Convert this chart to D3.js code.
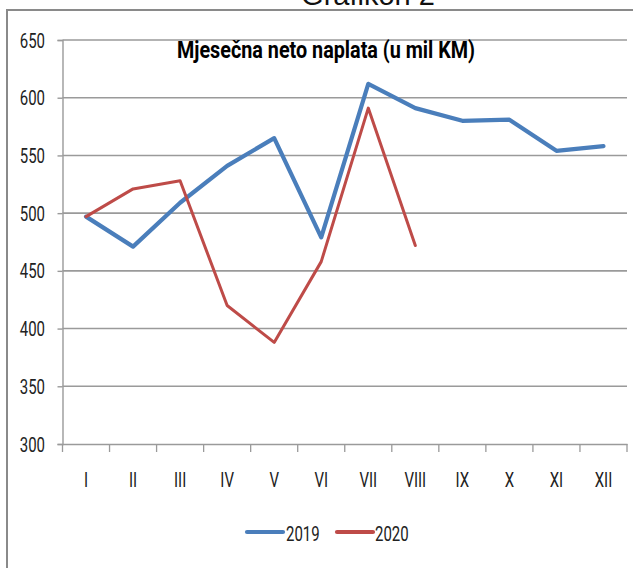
<!DOCTYPE html>
<html>
<head>
<meta charset="utf-8">
<script src="https://cdn.jsdelivr.net/npm/d3@7"></script>
<style>
  html, body { margin: 0; padding: 0; background: #fff; }
  svg { display: block; }
</style>
</head>
<body>
<svg id="chart" width="633" height="568"></svg>
<script>
const months = ["I","II","III","IV","V","VI","VII","VIII","IX","X","XI","XII"];
const values2019 = [497, 471, 509, 541, 565, 479, 612, 591, 580, 581, 554, 558];
const values2020 = [497, 521, 528, 420, 388, 458, 591, 472];
const seriesNames = ["2019", "2020"];
const yTicks = [300, 350, 400, 450, 500, 550, 600, 650];
const chartTitle = "Mjesečna neto naplata (u mil KM)";
const captionText = "Grafikon 2";

const colors = { "2019": "#4A7EBB", "2020": "#BE4B48" };
const widths = { "2019": 4.2, "2020": 3 };
const font = "Roboto, 'DejaVu Sans', sans-serif";
const sx = 0.75; // horizontal condensing to mimic a narrow face

const svg = d3.select("#chart");
const plotLeft = 62.5, plotRight = 627, plotTop = 40, plotBottom = 444;

const x = d3.scaleBand().domain(months).range([plotLeft, plotRight]).paddingInner(0).paddingOuter(0);
const y = d3.scaleLinear().domain([300, 650]).range([plotBottom, plotTop]);

// frame of the outer picture
svg.append("line").attr("x1", 7).attr("x2", 7).attr("y1", 10).attr("y2", 568)
  .attr("stroke", "#8a8a8a").attr("stroke-width", 2);
svg.append("line").attr("x1", 6).attr("x2", 633).attr("y1", 10).attr("y2", 10)
  .attr("stroke", "#8a8a8a").attr("stroke-width", 2);

// caption (cut off at top, as in the reference)
svg.append("text").attr("x", 368).attr("y", 4.5).attr("text-anchor", "middle")
  .attr("font-family", "'Liberation Sans', Arial, sans-serif").attr("font-size", 29)
  .attr("fill", "#111").text(captionText);

// gridlines
svg.append("g").selectAll("line").data(yTicks.filter(d => d !== 300)).join("line")
  .attr("x1", plotLeft).attr("x2", plotRight)
  .attr("y1", d => y(d)).attr("y2", d => y(d))
  .attr("stroke", "#9a9a9a").attr("stroke-width", 1.6);

// y axis
const yAxis = d3.axisLeft(y).tickValues(yTicks).tickSize(5).tickPadding(12.5).tickFormat(d3.format("d"));
const gy = svg.append("g").attr("transform", `translate(${plotLeft},0)`).call(yAxis);
gy.select(".domain").attr("stroke", "#9a9a9a").attr("stroke-width", 1.4);
gy.selectAll(".tick line").attr("stroke", "#9a9a9a").attr("stroke-width", 1.4);
gy.selectAll(".tick text").attr("font-family", font).attr("font-size", 20).attr("fill", "#222")
  .attr("transform", `translate(-17.5,0) scale(${sx},1)`).attr("x", 0).attr("dy", "0.35em");

// x axis
const xAxis = d3.axisBottom(x).tickSize(0).tickPadding(43);
const gx = svg.append("g").attr("transform", `translate(0,${plotBottom})`).call(xAxis);
gx.select(".domain").attr("stroke", "#9a9a9a").attr("stroke-width", 1.6);
gx.selectAll(".tick text").attr("font-family", font).attr("font-size", 20).attr("fill", "#222")
  .attr("dy", "0").attr("transform", `scale(${sx},1)`);
// tick marks at category boundaries
const boundaries = months.map(m => x(m)).concat([x(months[months.length - 1]) + x.bandwidth()]);
svg.append("g").selectAll("line").data(boundaries).join("line")
  .attr("x1", d => d).attr("x2", d => d).attr("y1", plotBottom).attr("y2", plotBottom + 8)
  .attr("stroke", "#9a9a9a").attr("stroke-width", 1.3);

// lines
const line = d3.line().x((d, i) => x(months[i]) + x.bandwidth() / 2).y(d => y(d));
const dataBySeries = { "2019": values2019, "2020": values2020 };
seriesNames.forEach(s => {
  svg.append("path").datum(dataBySeries[s])
    .attr("fill", "none").attr("stroke", colors[s]).attr("stroke-width", widths[s])
    .attr("stroke-linejoin", "round").attr("stroke-linecap", "round")
    .attr("d", line);
});

// title
svg.append("text").attr("x", 326).attr("y", 58).attr("text-anchor", "middle")
  .attr("font-family", font).attr("font-weight", "bold").attr("font-size", 23)
  .attr("fill", "#000").attr("textLength", 298).attr("lengthAdjust", "spacingAndGlyphs")
  .text(chartTitle);

// legend
const legendItems = [
  { name: "2019", x1: 247, x2: 283, tx: 286 },
  { name: "2020", x1: 337, x2: 373, tx: 375 }
];
const lg = svg.append("g");
legendItems.forEach(it => {
  lg.append("line").attr("x1", it.x1).attr("x2", it.x2).attr("y1", 532).attr("y2", 532)
    .attr("stroke", colors[it.name]).attr("stroke-width", 4.2).attr("stroke-linecap", "round");
  lg.append("text").attr("x", 0).attr("y", 541.5).attr("font-family", font)
    .attr("transform", `translate(${it.tx},0) scale(${sx},1)`)
    .attr("font-size", 20).attr("fill", "#222").text(it.name);
});
</script>
</body>
</html>
